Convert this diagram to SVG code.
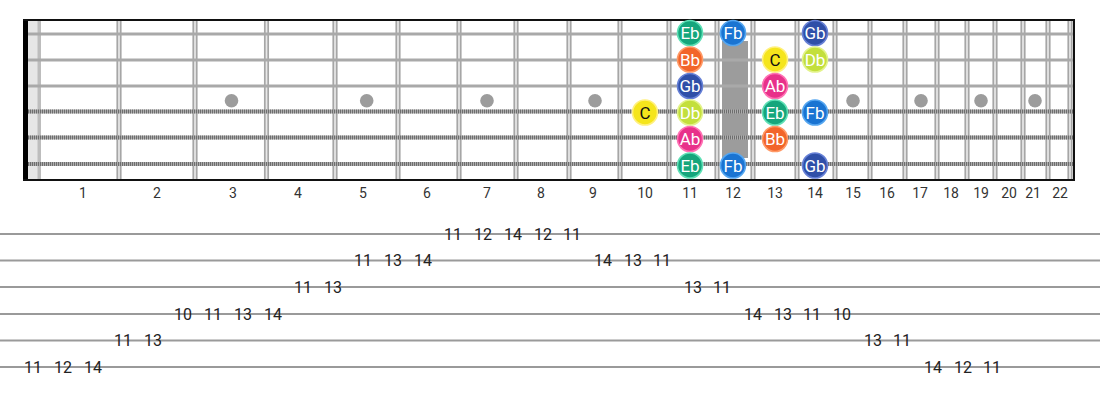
<svg xmlns="http://www.w3.org/2000/svg" width="1100" height="400" viewBox="0 0 1100 400">
<style>
.fw{stroke:#a6a6a6;stroke-width:1.7}
.fwbg{fill:#e8e8e8}
.ps{stroke:#a9a9a9;stroke-width:2.8}
.wsb{stroke:#b4b4b4;stroke-width:4}
.wsd{stroke:#6e6e6e;stroke-width:4;stroke-dasharray:1.1 0.9}
.dot{fill:#9c9c9c}
.fn{font-family:Roboto,"Liberation Sans",sans-serif;font-size:14px;fill:#333;text-anchor:middle}
.nt{font-family:Roboto,"Liberation Sans",sans-serif;font-size:17px;fill:#fff;text-anchor:middle;dominant-baseline:central}
.tl{stroke:#9a9a9a;stroke-width:2}
.tn{font-family:Roboto,"Liberation Sans",sans-serif;font-size:16px;fill:#222;text-anchor:middle;dominant-baseline:central}
.Eb{fill:#15a67c;stroke:#5fe0b6;stroke-width:1.6}
.Fb{fill:#1a74d2;stroke:#55a6f0;stroke-width:1.6}
.Gb{fill:#2f4fa8;stroke:#6680d6;stroke-width:1.6}
.Bb{fill:#f2652a;stroke:#ff9966;stroke-width:1.6}
.C{fill:#f5e51c;stroke:#fff07e;stroke-width:1.6}
.Db{fill:#c3df3c;stroke:#e3f38a;stroke-width:1.6}
.Ab{fill:#e8318a;stroke:#ff72b4;stroke-width:1.6}
.dk{fill:#111}
</style>
<defs>
<g id="fret"><rect class="fwbg" x="-2.4" y="20" width="4.8" height="160"/><line class="fw" x1="-1.7" y1="20" x2="-1.7" y2="180"/><line class="fw" x1="1.7" y1="20" x2="1.7" y2="180"/></g>
</defs>
<g id="fretboard">
<rect x="28" y="20" width="13" height="160" fill="#e6e6e6"/>
<rect x="37.5" y="20" width="3.5" height="160" fill="#bdbdbd"/>
<g id="frets">
<use href="#fret" x="119"/><use href="#fret" x="195"/><use href="#fret" x="266.5"/><use href="#fret" x="335"/>
<use href="#fret" x="398"/><use href="#fret" x="459"/><use href="#fret" x="516"/><use href="#fret" x="569"/>
<use href="#fret" x="620"/><use href="#fret" x="669"/><use href="#fret" x="717"/><use href="#fret" x="753"/>
<use href="#fret" x="797"/><use href="#fret" x="835"/><use href="#fret" x="870"/><use href="#fret" x="905"/>
<use href="#fret" x="937"/><use href="#fret" x="967"/><use href="#fret" x="995"/><use href="#fret" x="1023"/>
<use href="#fret" x="1048"/><use href="#fret" x="1070"/>
</g>
<g id="inlays">
<circle class="dot" cx="231.5" cy="100.7" r="6.8"/>
<circle class="dot" cx="366.7" cy="100.7" r="6.8"/>
<circle class="dot" cx="487" cy="100.7" r="6.8"/>
<circle class="dot" cx="595" cy="100.7" r="6.8"/>
<rect class="dot" x="722" y="41" width="26" height="117"/>
<circle class="dot" cx="853" cy="100.7" r="6.8"/>
<circle class="dot" cx="921" cy="100.7" r="6.8"/>
<circle class="dot" cx="981" cy="100.7" r="6.8"/>
<circle class="dot" cx="1035" cy="100.7" r="6.8"/>
</g>
<g id="strings">
<line class="ps" x1="24" y1="34" x2="1074" y2="34"/>
<line class="ps" x1="24" y1="60" x2="1074" y2="60"/>
<line class="ps" x1="24" y1="86" x2="1074" y2="86"/>
<line class="wsb" x1="24" y1="111.5" x2="1074" y2="111.5"/><line class="wsd" x1="24" y1="111.5" x2="1074" y2="111.5"/>
<line class="wsb" x1="24" y1="137.5" x2="1074" y2="137.5"/><line class="wsd" x1="24" y1="137.5" x2="1074" y2="137.5"/>
<line class="wsb" x1="24" y1="164" x2="1074" y2="164"/><line class="wsd" x1="24" y1="164" x2="1074" y2="164"/>
</g>
<rect x="23" y="19" width="5" height="162" fill="#000"/>
<line x1="23" y1="20" x2="1075" y2="20" stroke="#111" stroke-width="2"/>
<line x1="23" y1="180" x2="1075" y2="180" stroke="#111" stroke-width="2"/>
<line x1="1074" y1="19" x2="1074" y2="181" stroke="#111" stroke-width="2"/>
</g>
<g id="fret-numbers">
<text class="fn" x="83" y="198">1</text><text class="fn" x="157" y="198">2</text><text class="fn" x="233" y="198">3</text>
<text class="fn" x="298" y="198">4</text><text class="fn" x="363" y="198">5</text><text class="fn" x="427" y="198">6</text>
<text class="fn" x="487" y="198">7</text><text class="fn" x="541" y="198">8</text><text class="fn" x="593" y="198">9</text>
<text class="fn" x="645" y="198">10</text><text class="fn" x="690" y="198">11</text><text class="fn" x="733" y="198">12</text>
<text class="fn" x="775" y="198">13</text><text class="fn" x="815" y="198">14</text><text class="fn" x="853" y="198">15</text>
<text class="fn" x="887" y="198">16</text><text class="fn" x="920" y="198">17</text><text class="fn" x="951" y="198">18</text>
<text class="fn" x="981" y="198">19</text><text class="fn" x="1009" y="198">20</text><text class="fn" x="1033" y="198">21</text>
<text class="fn" x="1060" y="198">22</text>
</g>
<g id="notes">
<g id="n-s1-f11"><circle class="Eb" cx="690" cy="33" r="12.5"/><text class="nt" x="690" y="33">Eb</text></g>
<g id="n-s1-f12"><circle class="Fb" cx="733" cy="33" r="12.5"/><text class="nt" x="733" y="33">Fb</text></g>
<g id="n-s1-f14"><circle class="Gb" cx="815" cy="33" r="12.5"/><text class="nt" x="815" y="33">Gb</text></g>
<g id="n-s2-f11"><circle class="Bb" cx="690" cy="59.5" r="12.5"/><text class="nt" x="690" y="59.5">Bb</text></g>
<g id="n-s2-f13"><circle class="C" cx="775" cy="59.5" r="12.5"/><text class="nt dk" x="775" y="59.5">C</text></g>
<g id="n-s2-f14"><circle class="Db" cx="815" cy="59.5" r="12.5"/><text class="nt" x="815" y="59.5">Db</text></g>
<g id="n-s3-f11"><circle class="Gb" cx="690" cy="86" r="12.5"/><text class="nt" x="690" y="86">Gb</text></g>
<g id="n-s3-f13"><circle class="Ab" cx="775" cy="86" r="12.5"/><text class="nt" x="775" y="86">Ab</text></g>
<g id="n-s4-f10"><circle class="C" cx="645" cy="112.5" r="12.5"/><text class="nt dk" x="645" y="112.5">C</text></g>
<g id="n-s4-f11"><circle class="Db" cx="690" cy="112.5" r="12.5"/><text class="nt" x="690" y="112.5">Db</text></g>
<g id="n-s4-f13"><circle class="Eb" cx="775" cy="112.5" r="12.5"/><text class="nt" x="775" y="112.5">Eb</text></g>
<g id="n-s4-f14"><circle class="Fb" cx="815" cy="112.5" r="12.5"/><text class="nt" x="815" y="112.5">Fb</text></g>
<g id="n-s5-f11"><circle class="Ab" cx="690" cy="139" r="12.5"/><text class="nt" x="690" y="139">Ab</text></g>
<g id="n-s5-f13"><circle class="Bb" cx="775" cy="139" r="12.5"/><text class="nt" x="775" y="139">Bb</text></g>
<g id="n-s6-f11"><circle class="Eb" cx="690" cy="165.5" r="12.5"/><text class="nt" x="690" y="165.5">Eb</text></g>
<g id="n-s6-f12"><circle class="Fb" cx="733" cy="165.5" r="12.5"/><text class="nt" x="733" y="165.5">Fb</text></g>
<g id="n-s6-f14"><circle class="Gb" cx="815" cy="165.5" r="12.5"/><text class="nt" x="815" y="165.5">Gb</text></g>
</g>
<g id="tab-lines">
<line class="tl" x1="0" y1="234" x2="1100" y2="234"/>
<line class="tl" x1="0" y1="260.5" x2="1100" y2="260.5"/>
<line class="tl" x1="0" y1="287" x2="1100" y2="287"/>
<line class="tl" x1="0" y1="314" x2="1100" y2="314"/>
<line class="tl" x1="0" y1="340.5" x2="1100" y2="340.5"/>
<line class="tl" x1="0" y1="367" x2="1100" y2="367"/>
</g>
<g id="tab-numbers">
<text class="tn" x="33" y="367">11</text><text class="tn" x="63" y="367">12</text><text class="tn" x="93" y="367">14</text>
<text class="tn" x="123" y="340.5">11</text><text class="tn" x="153" y="340.5">13</text>
<text class="tn" x="183" y="314">10</text><text class="tn" x="213" y="314">11</text><text class="tn" x="243" y="314">13</text><text class="tn" x="273" y="314">14</text>
<text class="tn" x="303" y="287">11</text><text class="tn" x="333" y="287">13</text>
<text class="tn" x="363" y="260.5">11</text><text class="tn" x="393" y="260.5">13</text><text class="tn" x="423" y="260.5">14</text>
<text class="tn" x="453" y="234">11</text><text class="tn" x="483" y="234">12</text><text class="tn" x="513" y="234">14</text><text class="tn" x="543" y="234">12</text><text class="tn" x="572" y="234">11</text>
<text class="tn" x="603" y="260.5">14</text><text class="tn" x="633" y="260.5">13</text><text class="tn" x="662" y="260.5">11</text>
<text class="tn" x="693" y="287">13</text><text class="tn" x="722" y="287">11</text>
<text class="tn" x="753" y="314">14</text><text class="tn" x="783" y="314">13</text><text class="tn" x="812" y="314">11</text><text class="tn" x="842" y="314">10</text>
<text class="tn" x="873" y="340.5">13</text><text class="tn" x="902" y="340.5">11</text>
<text class="tn" x="933" y="367">14</text><text class="tn" x="963" y="367">12</text><text class="tn" x="992" y="367">11</text>
</g>
</svg>
